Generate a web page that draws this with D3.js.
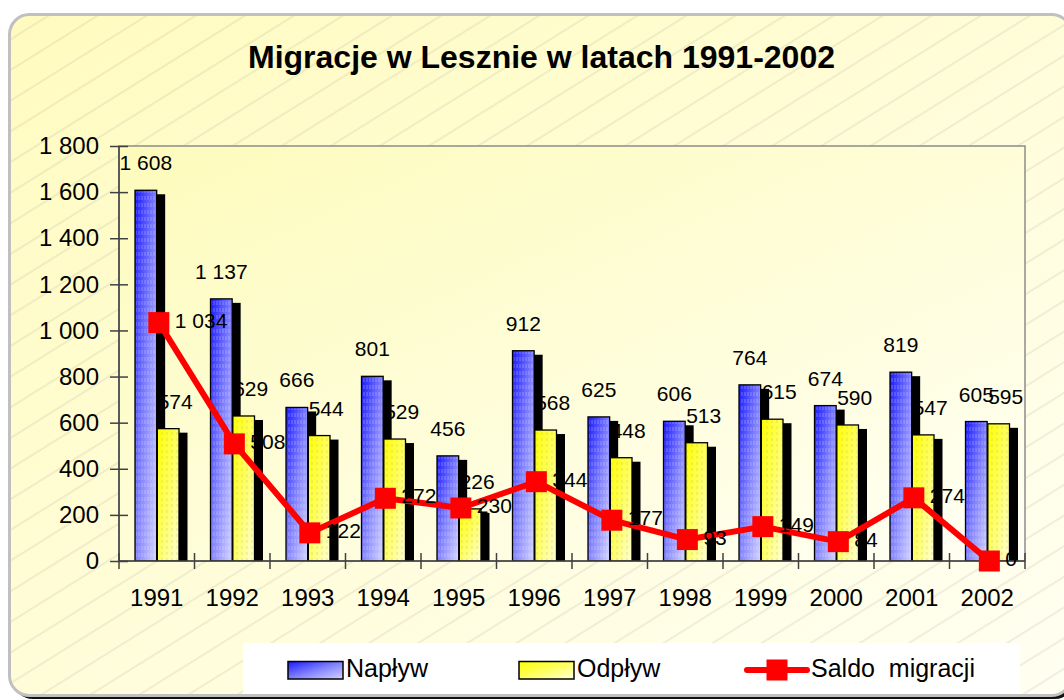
<!DOCTYPE html>
<html>
<head>
  <meta charset="utf-8">
  <style>
    body {
      margin: 0;
      background: #fff;
    }
    text {
      font-family: Arial, "Liberation Sans", sans-serif;
      fill: #000;
    }
    .axis path, .axis line {
      stroke: #404040;
      stroke-width: 1.5px;
    }
  </style>
</head>
<body>
  <script src="https://d3js.org/d3.v7.min.js"></script>
  <script>
    var years = ["1991", "1992", "1993", "1994", "1995", "1996", "1997", "1998", "1999", "2000", "2001", "2002"];
    var naplyw = [1608, 1137, 666, 801, 456, 912, 625, 606, 764, 674, 819, 605];
    var odplyw = [574, 629, 544, 529, 226, 568, 448, 513, 615, 590, 547, 595];
    var saldo = [1034, 508, 122, 272, 230, 344, 177, 93, 149, 84, 274, 0];
    var yTicks = [0, 200, 400, 600, 800, 1000, 1200, 1400, 1600, 1800];
    var seriesNames = ["Napływ", "Odpływ", "Saldo  migracji"];

    var width = 1064, height = 700;
    var plot = {left: 119, right: 1025, top: 146, bottom: 561};

    var svg = d3.select("body").append("svg")
        .attr("width", width)
        .attr("height", height);

    var defs = svg.append("defs");

    // backgrounds
    var bgGrad = defs.append("linearGradient").attr("id", "bgGrad")
        .attr("x1", 0).attr("y1", 0).attr("x2", 1).attr("y2", 1);
    bgGrad.append("stop").attr("offset", 0).attr("stop-color", "#fffbbf");
    bgGrad.append("stop").attr("offset", 1).attr("stop-color", "#fffff2");

    var plotGrad = defs.append("linearGradient").attr("id", "plotGrad")
        .attr("x1", 0).attr("y1", 0).attr("x2", 1).attr("y2", 1);
    plotGrad.append("stop").attr("offset", 0).attr("stop-color", "#fdfbbb");
    plotGrad.append("stop").attr("offset", 1).attr("stop-color", "#fffff4");

    var hatch = defs.append("pattern").attr("id", "hatch")
        .attr("patternUnits", "userSpaceOnUse")
        .attr("width", 26).attr("height", 26)
        .attr("patternTransform", "rotate(-32)");
    hatch.append("line")
        .attr("x1", 0).attr("x2", 26).attr("y1", 13).attr("y2", 13)
        .attr("stroke", "#a8a898").attr("stroke-opacity", 0.6).attr("stroke-width", 0.6);

    // bar fills
    var blueGrad = defs.append("linearGradient").attr("id", "blueGrad")
        .attr("x1", 0).attr("y1", 0).attr("x2", 1).attr("y2", 1);
    blueGrad.append("stop").attr("offset", 0).attr("stop-color", "#1a1aff");
    blueGrad.append("stop").attr("offset", 0.5).attr("stop-color", "#8080ff");
    blueGrad.append("stop").attr("offset", 1).attr("stop-color", "#d4d4ff");

    var yellowGrad = defs.append("linearGradient").attr("id", "yellowGrad")
        .attr("x1", 0).attr("y1", 0).attr("x2", 1).attr("y2", 1);
    yellowGrad.append("stop").attr("offset", 0).attr("stop-color", "#ffff00");
    yellowGrad.append("stop").attr("offset", 0.5).attr("stop-color", "#ffff60");
    yellowGrad.append("stop").attr("offset", 1).attr("stop-color", "#ffffd8");

    var streak = defs.append("pattern").attr("id", "streak")
        .attr("patternUnits", "userSpaceOnUse")
        .attr("width", 3).attr("height", 7);
    streak.append("line")
        .attr("x1", 1).attr("x2", 1).attr("y1", 0).attr("y2", 4)
        .attr("stroke", "#fff").attr("stroke-opacity", 0.3).attr("stroke-width", 1);

    var dash = defs.append("pattern").attr("id", "dash")
        .attr("patternUnits", "userSpaceOnUse")
        .attr("width", 5).attr("height", 6);
    dash.append("line")
        .attr("x1", 2).attr("x2", 2).attr("y1", 0).attr("y2", 3)
        .attr("stroke", "#999966").attr("stroke-opacity", 0.35).attr("stroke-width", 0.8);

    defs.append("clipPath").attr("id", "plotClip")
      .append("rect")
        .attr("x", plot.left).attr("y", 0)
        .attr("width", width).attr("height", plot.bottom);

    // frame
    svg.append("rect")
        .attr("x", 13).attr("y", 18)
        .attr("width", 1062).attr("height", 681)
        .attr("rx", 20)
        .attr("fill", "#111");
    svg.append("rect")
        .attr("x", 9.5).attr("y", 14.5)
        .attr("width", 1062).attr("height", 681)
        .attr("rx", 20)
        .attr("fill", "url(#bgGrad)")
        .attr("stroke", "#c0c0c0")
        .attr("stroke-width", 3);
    svg.append("rect")
        .attr("x", 11).attr("y", 16)
        .attr("width", 1059).attr("height", 678)
        .attr("rx", 19)
        .attr("fill", "url(#hatch)");

    // title
    svg.append("text")
        .attr("x", 541.5).attr("y", 68)
        .attr("text-anchor", "middle")
        .style("font-size", "32px")
        .style("font-weight", "bold")
        .text("Migracje w Lesznie w latach 1991-2002");

    // plot area
    svg.append("rect")
        .attr("x", plot.left).attr("y", plot.top)
        .attr("width", plot.right - plot.left)
        .attr("height", plot.bottom - plot.top)
        .attr("fill", "url(#plotGrad)")
        .attr("stroke", "#8c8c8c")
        .attr("stroke-width", 1.5);

    var x0 = d3.scaleBand()
        .domain(years)
        .range([plot.left, plot.right]);

    var x1 = d3.scaleBand()
        .domain(seriesNames.slice(0, 2))
        .range([16, 60])
        .paddingInner(0.03);

    var y = d3.scaleLinear()
        .domain([0, 1800])
        .range([plot.bottom, plot.top]);

    var fmt = d3.formatLocale({decimal: ",", thousands: "\u00a0", grouping: [3], currency: ["", ""]}).format(",d");

    var bars = [
      {name: seriesNames[0], values: naplyw, fill: "url(#blueGrad)", texture: "url(#streak)"},
      {name: seriesNames[1], values: odplyw, fill: "url(#yellowGrad)", texture: "url(#dash)"}
    ];

    var shadowDx = 8.5, shadowDy = 4;
    var barG = svg.append("g").attr("clip-path", "url(#plotClip)");

    bars.forEach(function(s) {
      var g = barG.append("g");
      var rows = years.map(function(yr, i) { return {year: yr, value: s.values[i]}; });
      var bx = function(d) { return x0(d.year) + x1(s.name); };

      g.selectAll(".shadow")
          .data(rows)
        .enter().append("rect")
          .attr("class", "shadow")
          .attr("x", function(d) { return bx(d) + shadowDx; })
          .attr("y", function(d) { return y(d.value) + shadowDy; })
          .attr("width", x1.bandwidth())
          .attr("height", function(d) { return plot.bottom - y(d.value); })
          .attr("fill", "#000");

      g.selectAll(".bar")
          .data(rows)
        .enter().append("rect")
          .attr("class", "bar")
          .attr("x", bx)
          .attr("y", function(d) { return y(d.value); })
          .attr("width", x1.bandwidth())
          .attr("height", function(d) { return plot.bottom - y(d.value); })
          .attr("fill", s.fill)
          .attr("stroke", "#000")
          .attr("stroke-width", 1.3);

      g.selectAll(".texture")
          .data(rows)
        .enter().append("rect")
          .attr("class", "texture")
          .attr("x", function(d) { return bx(d) + 1; })
          .attr("y", function(d) { return y(d.value) + 1; })
          .attr("width", x1.bandwidth() - 2)
          .attr("height", function(d) { return Math.max(0, plot.bottom - y(d.value) - 2); })
          .attr("fill", s.texture);
    });

    // axes
    var yAxis = svg.append("g")
        .attr("class", "axis")
        .attr("transform", "translate(" + plot.left + ",0)")
        .call(d3.axisLeft(y).tickValues(yTicks).tickSizeInner(9).tickSizeOuter(0).tickPadding(11).tickFormat(fmt));
    yAxis.selectAll(".tick line").attr("x2", 9).attr("x1", -9);
    yAxis.selectAll(".tick text")
        .style("font-size", "24px")
        .attr("fill", "#000");
    yAxis.select(".domain").remove();
    yAxis.append("line")
        .attr("y1", plot.top).attr("y2", plot.bottom);
    yAxis.attr("font-family", null);

    var xAxis = svg.append("g")
        .attr("class", "axis")
        .attr("transform", "translate(0," + plot.bottom + ")")
        .call(d3.axisBottom(x0).tickSize(0).tickPadding(28));
    xAxis.select(".domain").remove();
    xAxis.append("line")
        .attr("x1", plot.left).attr("x2", plot.right);
    xAxis.selectAll(".tick text")
        .style("font-size", "24px")
        .attr("fill", "#000");
    xAxis.selectAll(".sep")
        .data(years.concat(["end"]))
      .enter().append("line")
        .attr("class", "sep")
        .attr("x1", function(d) { return d === "end" ? plot.right : x0(d); })
        .attr("x2", function(d) { return d === "end" ? plot.right : x0(d); })
        .attr("y1", -8).attr("y2", 8);
    xAxis.attr("font-family", null);

    // saldo line
    var lx = function(i) { return x0(years[i]) + x1(seriesNames[1]) + 1.5; };
    var line = d3.line()
        .x(function(d, i) { return lx(i); })
        .y(function(d) { return y(d); });

    svg.append("path")
        .datum(saldo)
        .attr("d", line)
        .attr("fill", "none")
        .attr("stroke", "#ff0000")
        .attr("stroke-width", 6)
        .attr("stroke-linejoin", "round");

    var mk = 21;
    svg.selectAll(".marker")
        .data(saldo)
      .enter().append("rect")
        .attr("class", "marker")
        .attr("x", function(d, i) { return lx(i) - mk / 2; })
        .attr("y", function(d) { return y(d) - mk / 2; })
        .attr("width", mk).attr("height", mk)
        .attr("fill", "#ff0000");

    // data labels
    var labelG = svg.append("g").style("font-size", "21px");

    labelG.selectAll(".lblN")
        .data(naplyw)
      .enter().append("text")
        .attr("x", function(d, i) { return x0(years[i]) + x1(seriesNames[0]) + x1.bandwidth() / 2; })
        .attr("y", function(d) { return y(d) - 20; })
        .attr("text-anchor", "middle")
        .text(fmt);

    labelG.selectAll(".lblO")
        .data(odplyw)
      .enter().append("text")
        .attr("x", function(d, i) { return x0(years[i]) + x1(seriesNames[1]) + x1.bandwidth() / 2 + 7; })
        .attr("y", function(d) { return y(d) - 20; })
        .attr("text-anchor", "middle")
        .text(fmt);

    labelG.selectAll(".lblS")
        .data(saldo)
      .enter().append("text")
        .attr("x", function(d, i) { return lx(i) + 16; })
        .attr("y", function(d) { return y(d) + 5; })
        .text(fmt);

    // legend
    var legend = svg.append("g");
    legend.append("rect")
        .attr("x", 243).attr("y", 643)
        .attr("width", 777).attr("height", 51)
        .attr("fill", "#fff");

    var items = [
      {x: 288, type: "bar", fill: "url(#blueGrad)"},
      {x: 519, type: "bar", fill: "url(#yellowGrad)"},
      {x: 747, type: "line"}
    ];
    items.forEach(function(it, i) {
      var g = legend.append("g").attr("transform", "translate(" + it.x + ",0)");
      if (it.type === "bar") {
        g.append("rect")
            .attr("x", 0).attr("y", 661.5)
            .attr("width", 55).attr("height", 17.5)
            .attr("fill", it.fill)
            .attr("stroke", "#000")
            .attr("stroke-width", 1.5);
      } else {
        g.append("line")
            .attr("x1", 0).attr("x2", 60)
            .attr("y1", 670).attr("y2", 670)
            .attr("stroke", "#ff0000")
            .attr("stroke-width", 6)
            .attr("stroke-linecap", "round");
        g.append("rect")
            .attr("x", 30 - mk / 2).attr("y", 670 - mk / 2)
            .attr("width", mk).attr("height", mk)
            .attr("fill", "#ff0000");
      }
      g.append("text")
          .attr("x", it.type === "bar" ? 58 : 64)
          .attr("y", 677)
          .style("font-size", "25px")
          .style("white-space", "pre")
          .text(seriesNames[i]);
    });
  </script>
</body>
</html>
